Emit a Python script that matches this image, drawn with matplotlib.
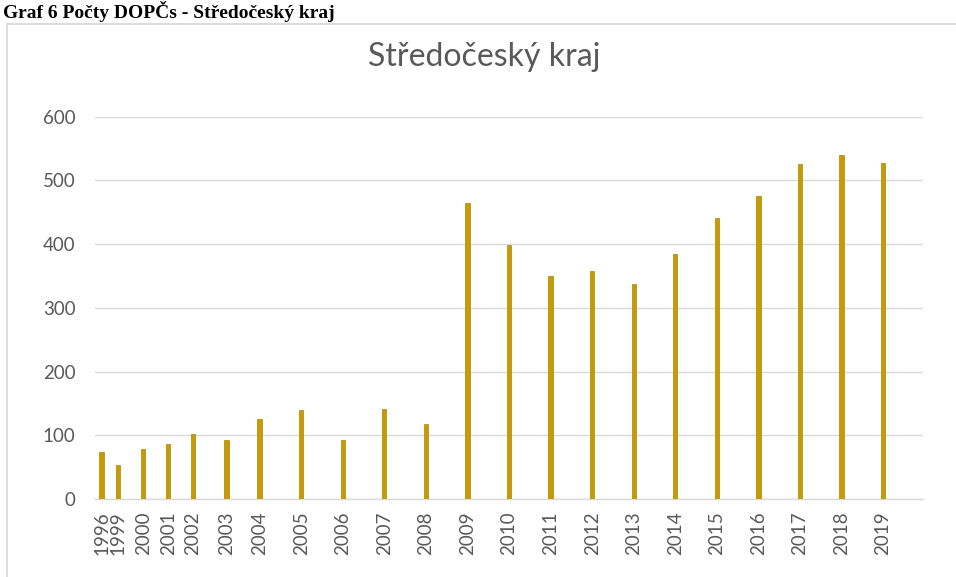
import matplotlib.pyplot as plt
from matplotlib.patches import Rectangle

# Data
years = ["1996", "1999", "2000", "2001", "2002", "2003", "2004", "2005", "2006", "2007", "2008",
         "2009", "2010", "2011", "2012", "2013", "2014", "2015", "2016", "2017", "2018", "2019"]
counts = [73, 53, 78, 86, 102, 93, 125, 139, 93, 141, 118,
          464, 398, 350, 358, 338, 385, 441, 476, 526, 540, 527]

# The original axis spacing is uneven (Excel date-like axis), so map each year to a slot
year_slots = [0, 2, 5, 8, 11, 15, 19, 24, 29, 34, 39,
              44, 49, 54, 59, 64, 69, 74, 79, 84, 89, 94]

y_ticks = [0, 100, 200, 300, 400, 500, 600]

grid_col = "#D9D9D9"
text_col = "#595959"
bar_col = "#C89B05"

plt.rcParams['font.family'] = ['Lato', 'DejaVu Sans']

fig = plt.figure(figsize=(9.56, 5.77), dpi=100)

# Document caption above the chart frame
fig.text(0.003, 1 - 18 / 577, "Graf 6 Počty DOPČs - Středočeský kraj", fontsize=14,
         fontweight="bold", family="Liberation Serif", va="baseline", ha="left")

# Chart frame (only top and left edges visible in the crop)
fig.patches.append(Rectangle((7 / 956, -0.1), 1.2, 1 - 24 / 577 + 0.1, transform=fig.transFigure,
                             fill=False, edgecolor=grid_col, linewidth=1.3))

ax = fig.add_axes([95 / 956, 1 - 499 / 577, (923 - 95) / 956, (499 - 116.7) / 577])

ax.bar(year_slots, counts, width=0.52, color=bar_col, edgecolor="#AD8500", linewidth=0.5, zorder=3)

ax.set_ylim(0, 600)
ax.set_xlim(-0.8, 98.8)
ax.set_yticks(y_ticks)
ax.set_xticks(year_slots)
ax.set_xticklabels(years, rotation=90)
ax.tick_params(axis="both", length=0, colors=text_col, labelsize=13.5)
ax.tick_params(axis="y", pad=14)
ax.tick_params(axis="x", pad=9)

ax.grid(axis="y", color=grid_col, linewidth=1.0, zorder=0)
for side in ["top", "right", "left"]:
    ax.spines[side].set_visible(False)
ax.spines["bottom"].set_color(grid_col)
ax.spines["bottom"].set_linewidth(1.0)

# Chart title
fig.text(484 / 956, 1 - 65.7 / 577, "Středočeský kraj", fontsize=23, color=text_col,
         ha="center", va="baseline")

fig.savefig("out.png", dpi=100)
